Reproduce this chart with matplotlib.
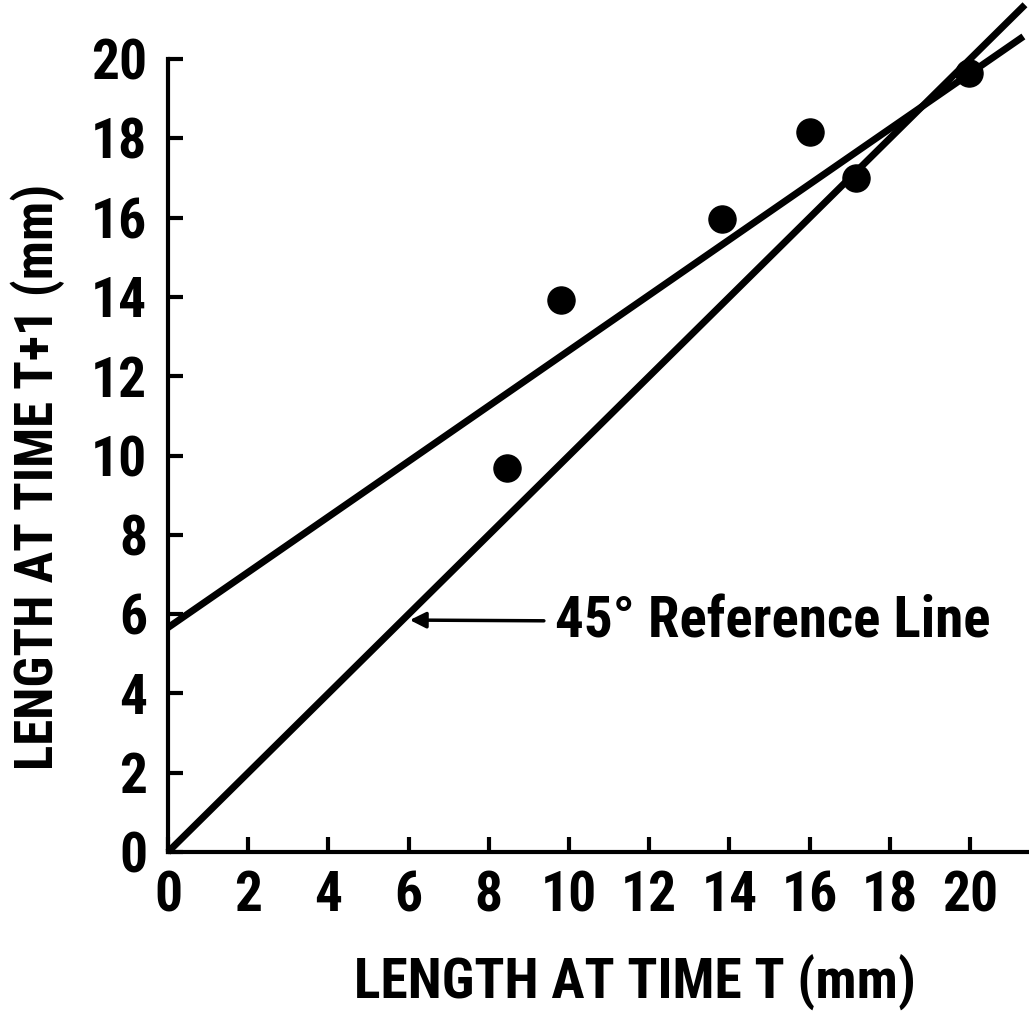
import matplotlib
matplotlib.use("Agg")
import matplotlib.pyplot as plt
import numpy as np

# ---- data ----
length_t = [8.46, 9.80, 13.82, 16.01, 17.15, 19.98]
length_t1 = [9.68, 13.92, 15.96, 18.17, 16.99, 19.64]
fit_intercept = 5.66
fit_slope = 0.699
fit_x = [0.0, 21.33]
ref_x = [0.0, 21.37]
x_ticks = [0, 2, 4, 6, 8, 10, 12, 14, 16, 18, 20]
y_ticks = [0, 2, 4, 6, 8, 10, 12, 14, 16, 18, 20]

plt.rcParams['font.family'] = ['Roboto Condensed', 'DejaVu Sans']
plt.rcParams['font.weight'] = 'bold'
FS = 40

fig = plt.figure(figsize=(10.29, 10.19), dpi=100)
ax = fig.add_axes([168/1029, 1 - 852/1019, 1 - 168/1029, 852/1019])
ax.set_xlim(0, 21.47)
ax.set_ylim(0, 21.49)

fx = np.array(fit_x)
ax.plot(fx, fit_intercept + fit_slope * fx, color='black', lw=5, solid_capstyle='butt', clip_on=False)
rx = np.array(ref_x)
ax.plot(rx, rx, color='black', lw=5, solid_capstyle='butt', clip_on=False)
ax.scatter(length_t, length_t1, s=19.5**2, color='black', zorder=5, clip_on=False)

ax.annotate('45° Reference Line', xy=(6.03, 5.85), xytext=(9.65, 5.8),
            fontsize=41, fontweight='bold', va='center', ha='left',
            arrowprops=dict(arrowstyle='-|>', color='black', lw=2.5,
                            mutation_scale=24, shrinkA=6, shrinkB=0))

for s in ['top', 'right']:
    ax.spines[s].set_visible(False)
ax.spines['left'].set_bounds(0, 20)
ax.spines['left'].set_linewidth(3)
ax.spines['bottom'].set_linewidth(3)

ax.set_xticks(x_ticks)
ax.set_yticks(y_ticks)
ax.tick_params(direction='in', length=11, width=3, labelsize=FS)
ax.tick_params(axis='x', pad=13)
ax.tick_params(axis='y', pad=15)
for lab in ax.get_xticklabels() + ax.get_yticklabels():
    lab.set_fontweight('bold')

fig.text(635/1029, 1 - 983/1019, 'LENGTH AT TIME T (mm)', ha='center', va='center',
         fontsize=FS, fontweight='bold')
fig.text(38/1029, 1 - 477/1019, 'LENGTH AT TIME T+1 (mm)', ha='center', va='center',
         rotation=90, fontsize=38, fontweight='bold')

fig.savefig('out.png', dpi=100)
